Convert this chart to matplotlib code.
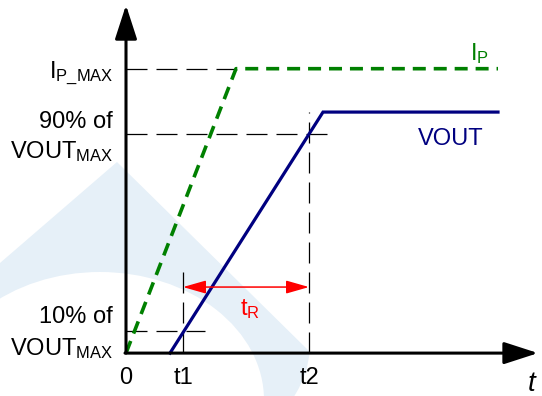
import matplotlib
matplotlib.use("Agg")
import matplotlib.pyplot as plt
from matplotlib.patches import Polygon, Ellipse

plt.rcParams['font.family'] = ['Liberation Sans', 'DejaVu Sans']
plt.rcParams['mathtext.fontset'] = 'custom'
plt.rcParams['mathtext.rm'] = 'Liberation Sans'
plt.rcParams['mathtext.it'] = 'Liberation Sans:italic'

# time points (arbitrary units) and levels (fraction of VOUT max)
t_ip_ramp = 1.10
t_vout_start = 0.44
t_vout_top = 1.97
t_end = 3.72
t1 = 0.57
t2 = 1.83
ip_max = 1.18
vout_max = 1.0
lvl_90 = 0.91
lvl_10 = 0.09

ip_t = [0, t_ip_ramp, t_end]
ip_v = [0, ip_max, ip_max]
vout_t = [t_vout_start, t_vout_top, t_end]
vout_v = [0, vout_max, vout_max]

fig = plt.figure(figsize=(5.42, 3.96), dpi=100)

# faint watermark in the background (pixel coords)
bg = fig.add_axes([0, 0, 1, 1])
bg.set_xlim(0, 542)
bg.set_ylim(396, 0)
bg.axis('off')
wm = '#e6f0f8'
bg.add_patch(Polygon([(117, 162), (310, 352), (306, 372), (299, 388), (292, 400),
                      (0, 400), (0, 263)], closed=True, fc=wm, ec='none'))
bg.add_patch(Ellipse((100, 400), 328, 256, fc='white', ec='none'))

ax = fig.add_axes([0, 0, 1, 1])
ax.patch.set_alpha(0)
ax.set_xlim(-1.26, 4.16)
ax.set_ylim(-0.178, 1.465)
ax.axis('off')

# axes with arrows
ax.annotate('', xy=(0, 1.444), xytext=(0, 0),
            arrowprops=dict(arrowstyle='-|>,head_length=2.1,head_width=0.68',
                            mutation_scale=10, lw=2.2, color='black',
                            shrinkA=0, shrinkB=0))
ax.annotate('', xy=(4.12, 0), xytext=(-0.01, 0),
            arrowprops=dict(arrowstyle='-|>,head_length=2.1,head_width=0.68',
                            mutation_scale=10, lw=2.2, color='black',
                            shrinkA=0, shrinkB=0))

# guide lines
dkw = dict(color='black', lw=0.9, dashes=(16.8, 7.2))
ax.plot([0, t_ip_ramp], [ip_max, ip_max], **dkw)
ax.plot([0, 2.10], [lvl_90, lvl_90], **dkw)
ax.plot([t2, t2], [0, vout_max], **dkw)
ax.plot([0, 0.79], [lvl_10, lvl_10], **dkw)
ax.plot([t1, t1], [0, 0.365], **dkw)

# signals
ax.plot(ip_t, ip_v, color='#008000', lw=2.6, dashes=(3.6, 2.2))
ax.plot(vout_t, vout_v, color='#000080', lw=2.3, solid_joinstyle='miter')

# rise time arrow
ax.annotate('', xy=(t2, 0.274), xytext=(t1, 0.274),
            arrowprops=dict(arrowstyle='<|-|>,head_length=1.4,head_width=0.4',
                            mutation_scale=10, lw=1.1, color='red',
                            shrinkA=0, shrinkB=0))

fs = 17
ax.text(-0.13, 1.141, r'I$_\mathrm{P\_MAX}$', ha='right', va='baseline', fontsize=fs)
ax.text(-0.13, 0.934, '90% of', ha='right', va='baseline', fontsize=fs)
ax.text(-0.13, 0.809, r'VOUT$_\mathrm{MAX}$', ha='right', va='baseline', fontsize=fs)
ax.text(-0.13, 0.124, '10% of', ha='right', va='baseline', fontsize=fs)
ax.text(-0.13, -0.008, r'VOUT$_\mathrm{MAX}$', ha='right', va='baseline', fontsize=fs)

for xv, lab in [(0, '0'), (t1, 't1'), (t2, 't2')]:
    ax.text(xv, -0.129, lab, ha='center', va='baseline', fontsize=fs)
ax.text(4.06, -0.158, 't', ha='center', va='baseline', fontsize=20, style='italic')

ax.text(3.44, 1.216, r'I$_\mathrm{P}$', ha='left', va='baseline', fontsize=fs, color='#008000')
ax.text(2.92, 0.863, 'VOUT', ha='left', va='baseline', fontsize=fs, color='#000080')
ax.text(1.14, 0.158, r't$_\mathrm{R}$', ha='left', va='baseline', fontsize=fs, color='red')

fig.savefig('out.png', dpi=100)
